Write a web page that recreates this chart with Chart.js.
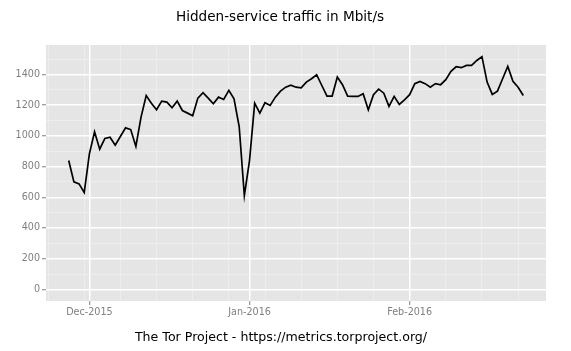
<!DOCTYPE html>
<html><head><meta charset="utf-8">
<script src="https://cdn.jsdelivr.net/npm/chart.js@4/dist/chart.umd.min.js"></script>
<style>html,body{margin:0;padding:0;background:#fff}#wrap{width:571px;height:351px;position:relative}</style>
</head><body><div id="wrap"><canvas id="c"></canvas></div>
<script>
const titleText = 'Hidden-service traffic in Mbit/s';
const captionText = 'The Tor Project - https://metrics.torproject.org/';

const dates = [
 '2015-11-27','2015-11-28','2015-11-29','2015-11-30',
 '2015-12-01','2015-12-02','2015-12-03','2015-12-04','2015-12-05','2015-12-06','2015-12-07','2015-12-08','2015-12-09','2015-12-10',
 '2015-12-11','2015-12-12','2015-12-13','2015-12-14','2015-12-15','2015-12-16','2015-12-17','2015-12-18','2015-12-19','2015-12-20',
 '2015-12-21','2015-12-22','2015-12-23','2015-12-24','2015-12-25','2015-12-26','2015-12-27','2015-12-28','2015-12-29','2015-12-30','2015-12-31',
 '2016-01-01','2016-01-02','2016-01-03','2016-01-04','2016-01-05','2016-01-06','2016-01-07','2016-01-08','2016-01-09','2016-01-10',
 '2016-01-11','2016-01-12','2016-01-13','2016-01-14','2016-01-15','2016-01-16','2016-01-17','2016-01-18','2016-01-19','2016-01-20',
 '2016-01-21','2016-01-22','2016-01-23','2016-01-24','2016-01-25','2016-01-26','2016-01-27','2016-01-28','2016-01-29','2016-01-30','2016-01-31',
 '2016-02-01','2016-02-02','2016-02-03','2016-02-04','2016-02-05','2016-02-06','2016-02-07','2016-02-08','2016-02-09','2016-02-10',
 '2016-02-11','2016-02-12','2016-02-13','2016-02-14','2016-02-15','2016-02-16','2016-02-17','2016-02-18','2016-02-19','2016-02-20',
 '2016-02-21','2016-02-22','2016-02-23'
];
const mbits = [
 839,700,687,631,
 883,1026,913,983,991,939,996,1052,1041,931,
 1122,1263,1213,1170,1226,1220,1183,1226,1165,1148,
 1131,1246,1281,1246,1209,1252,1237,1296,1241,1061,611,
 839,1213,1148,1216,1198,1252,1291,1317,1330,1317,
 1313,1350,1372,1398,1328,1259,1259,1383,1333,1259,
 1257,1257,1274,1170,1268,1304,1278,1192,1257,1205,1235,
 1268,1340,1355,1340,1317,1340,1333,1366,1420,1450,
 1444,1459,1459,1491,1516,1350,1270,1291,1372,1452,
 1355,1317,1263
];
const xMajorDates = ['2015-12-01','2016-01-01','2016-02-01'];
const xMajorLabels = ['Dec-2015','Jan-2016','Feb-2016'];
const xMinorDates = ['2015-11-23','2015-11-30','2015-12-07','2015-12-14','2015-12-21','2015-12-28','2016-01-04','2016-01-11','2016-01-18','2016-01-25','2016-02-08','2016-02-15','2016-02-22'];
const yMajorTicks = [0,200,400,600,800,1000,1200,1400];
const yMinorTicks = [100,300,500,700,900,1100,1300,1500];

const DAY = 86400000;
const origin = Date.parse('2015-12-01T00:00:00Z');
const dayOf = s => (Date.parse(s + 'T00:00:00Z') - origin) / DAY;

const points = dates.map((d, i) => ({x: dayOf(d), y: mbits[i]}));
const xMajor = xMajorDates.map(dayOf);
const xMinor = xMinorDates.map(dayOf);
const xLabelMap = new Map(xMajor.map((v, i) => [v, xMajorLabels[i]]));
const yMajorSet = new Set(yMajorTicks);

const xs = points.map(p => p.x), ys = points.map(p => p.y);
const xSpan = Math.max(...xs) - Math.min(...xs);
const xMin = Math.min(...xs) - 0.05 * xSpan, xMax = Math.max(...xs) + 0.05 * xSpan;
const yTop = Math.max(...ys), yBot = 0;
const ySpan = yTop - yBot;
const yMin = yBot - 0.05 * ySpan, yMax = yTop + 0.05 * ySpan;

const FONT = 'DejaVu Sans';
const panelBg = {
  id: 'panelBg',
  beforeDraw(chart) {
    const {ctx, chartArea: a} = chart;
    ctx.save();
    ctx.fillStyle = '#E5E5E5';
    ctx.fillRect(a.left, a.top, a.right - a.left, a.bottom - a.top);
    ctx.restore();
  },
  afterDraw(chart) {
    const {ctx} = chart;
    ctx.save();
    ctx.fillStyle = '#000';
    ctx.textAlign = 'center';
    ctx.textBaseline = 'middle';
    ctx.font = '13.6px "' + FONT + '"';
    ctx.fillText(titleText, 280, 17);
    ctx.font = '12.6px "' + FONT + '"';
    ctx.fillText(captionText, 281, 338);
    ctx.restore();
  }
};

new Chart(document.getElementById('c'), {
  type: 'line',
  data: { datasets: [{ data: points, borderColor: '#000', borderWidth: 1.7, pointRadius: 0, tension: 0, fill: false }] },
  options: {
    responsive: true, maintainAspectRatio: false, animation: false,
    layout: { padding: { top: 45, right: 25, bottom: 30, left: 0 } },
    plugins: { legend: { display: false }, tooltip: { enabled: false }, title: { display: false } },
    scales: {
      x: {
        type: 'linear', min: xMin, max: xMax,
        afterBuildTicks: s => { s.ticks = xMinor.concat(xMajor).map(v => ({value: v})); },
        afterFit: s => { s.height = 20; },
        border: { display: false },
        grid: {
          color: c => xLabelMap.has(c.tick && c.tick.value) ? '#FFFFFF' : '#EFEFEF',
          lineWidth: c => xLabelMap.has(c.tick && c.tick.value) ? 1.5 : 0.8,
          tickColor: c => xLabelMap.has(c.tick && c.tick.value) ? '#7F7F7F' : 'rgba(0,0,0,0)',
          tickWidth: 1, tickLength: 4, drawTicks: true
        },
        ticks: {
          autoSkip: false, maxRotation: 0, padding: 2, color: '#7F7F7F',
          font: { family: FONT, size: 9.6 },
          callback: v => xLabelMap.get(v) || ''
        }
      },
      y: {
        type: 'linear', min: yMin, max: yMax,
        afterBuildTicks: s => { s.ticks = yMinorTicks.concat(yMajorTicks).map(v => ({value: v})); },
        afterFit: s => { s.width = 46; },
        border: { display: false },
        grid: {
          color: c => yMajorSet.has(c.tick && c.tick.value) ? '#FFFFFF' : '#EFEFEF',
          lineWidth: c => yMajorSet.has(c.tick && c.tick.value) ? 1.5 : 0.8,
          tickColor: c => yMajorSet.has(c.tick && c.tick.value) ? '#7F7F7F' : 'rgba(0,0,0,0)',
          tickWidth: 1, tickLength: 4, drawTicks: true
        },
        ticks: {
          autoSkip: false, padding: 2, color: '#7F7F7F',
          font: { family: FONT, size: 9.6 },
          callback: v => yMajorSet.has(v) ? String(v) : ''
        }
      }
    }
  },
  plugins: [panelBg]
});
</script>
</body></html>
